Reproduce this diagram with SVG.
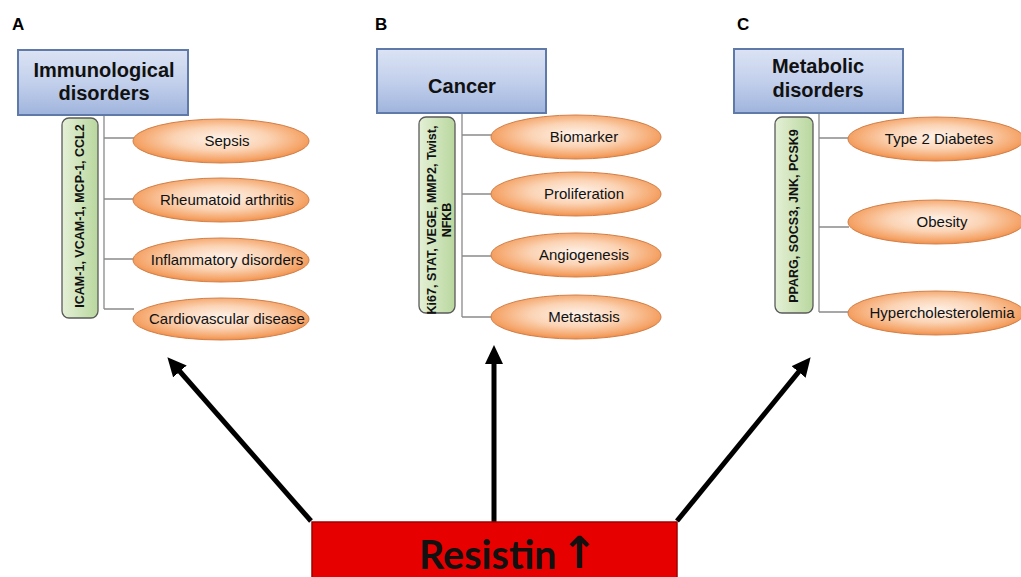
<svg xmlns="http://www.w3.org/2000/svg" width="1021" height="577" viewBox="0 0 1021 577">
<defs>
<linearGradient id="hdr" x1="0" y1="0" x2="0" y2="1">
<stop offset="0" stop-color="#dbe3f4"/>
<stop offset="0.5" stop-color="#c3d0ec"/>
<stop offset="1" stop-color="#9fb4dc"/>
</linearGradient>
<radialGradient id="ell" cx="0.5" cy="0.45" r="0.6">
<stop offset="0" stop-color="#fef3ea"/>
<stop offset="0.45" stop-color="#fbd3b4"/>
<stop offset="0.8" stop-color="#f5a468"/>
<stop offset="1" stop-color="#ee7d33"/>
</radialGradient>
<linearGradient id="grn" x1="0" y1="0" x2="1" y2="0">
<stop offset="0" stop-color="#e4f0d6"/>
<stop offset="1" stop-color="#b9d79e"/>
</linearGradient>
<marker id="ah" markerUnits="userSpaceOnUse" markerWidth="20" markerHeight="18" refX="2" refY="9" orient="auto">
<path d="M0,0 L19,9 L0,18 z" fill="#000"/>
</marker>
</defs>
<style>
.lbl{font-family:"Liberation Sans",Arial,sans-serif;font-weight:bold;font-size:17px;fill:#000}
.hb{fill:url(#hdr);stroke:#5f79a8;stroke-width:2}
.ht{font-family:"Liberation Sans",Arial,sans-serif;font-weight:bold;font-size:20px;fill:#111;text-anchor:middle}
.gb{fill:url(#grn);stroke:#5a5a5a;stroke-width:1.3}
.gt{font-family:"Liberation Sans",Arial,sans-serif;font-weight:bold;font-size:12.5px;fill:#111;text-anchor:middle}
.el{fill:url(#ell);stroke:#d0804a;stroke-width:1}
.et{font-family:"Liberation Sans",Arial,sans-serif;font-size:15px;fill:#111;text-anchor:middle}
.br{stroke:#8a8a8a;stroke-width:1.3;fill:none}
.ar{stroke:#000;stroke-width:5;fill:none;marker-end:url(#ah)}
</style>
<rect width="1021" height="577" fill="#fff"/>

<g id="connectors">
<path class="br" d="M104,115 V309 M104,138 H134 M104,199 H134 M104,259 H134 M104,309 H134"/>
<path class="br" d="M462,113 V317 M462,135 H492 M462,194 H492 M462,256 H492 M462,317 H492"/>
<path class="br" d="M819,113 V312 M819,138 H849 M819,227 H849 M819,312 H849"/>
<line class="ar" x1="311" y1="521" x2="178.6" y2="370"/>
<line class="ar" x1="494" y1="522" x2="494" y2="362"/>
<line class="ar" x1="677" y1="521" x2="799.9" y2="370.4"/>
</g>

<g id="panelA">
<text class="lbl" x="12" y="30">A</text>
<g id="nodeA-header"><rect class="hb" x="18" y="50" width="170" height="65"/>
<text class="ht" x="104" y="77">Immunological</text><text class="ht" x="104" y="100">disorders</text></g>
<g id="nodeA-markers"><rect class="gb" x="62" y="118" width="36" height="200" rx="7"/>
<text class="gt" transform="translate(84,216) rotate(-90)">ICAM-1, VCAM-1, MCP-1, CCL2</text></g>
<g id="nodeA-sepsis"><ellipse class="el" cx="221" cy="141" rx="88" ry="22"/><text class="et" x="227" y="146">Sepsis</text></g>
<g id="nodeA-ra"><ellipse class="el" cx="221" cy="200" rx="88" ry="22"/><text class="et" x="227" y="205">Rheumatoid arthritis</text></g>
<g id="nodeA-inf"><ellipse class="el" cx="221" cy="260" rx="88" ry="22"/><text class="et" x="227" y="265">Inflammatory disorders</text></g>
<g id="nodeA-cvd"><ellipse class="el" cx="221" cy="319" rx="88" ry="21"/><text class="et" x="227" y="324">Cardiovascular disease</text></g>
</g>

<g id="panelB">
<text class="lbl" x="375" y="30">B</text>
<g id="nodeB-header"><rect class="hb" x="377" y="49" width="169" height="64"/>
<text class="ht" x="462" y="93">Cancer</text></g>
<g id="nodeB-markers"><rect class="gb" x="419" y="117" width="36" height="196" rx="7"/>
<text class="gt" transform="translate(436,220) rotate(-90)">Ki67, STAT, VEGE, MMP2, Twist,</text>
<text class="gt" transform="translate(451,220) rotate(-90)">NFKB</text></g>
<g id="nodeB-bio"><ellipse class="el" cx="576" cy="137" rx="85" ry="22"/><text class="et" x="584" y="142">Biomarker</text></g>
<g id="nodeB-pro"><ellipse class="el" cx="576" cy="194" rx="85" ry="22"/><text class="et" x="584" y="199">Proliferation</text></g>
<g id="nodeB-ang"><ellipse class="el" cx="576" cy="255" rx="85" ry="22"/><text class="et" x="584" y="260">Angiogenesis</text></g>
<g id="nodeB-met"><ellipse class="el" cx="576" cy="317" rx="85" ry="22"/><text class="et" x="584" y="322">Metastasis</text></g>
</g>

<g id="panelC">
<text class="lbl" x="737" y="30">C</text>
<g id="nodeC-header"><rect class="hb" x="734" y="49" width="169" height="64"/>
<text class="ht" x="818" y="73">Metabolic</text><text class="ht" x="818" y="97">disorders</text></g>
<g id="nodeC-markers"><rect class="gb" x="775" y="117" width="38" height="196" rx="7"/>
<text class="gt" transform="translate(798,216) rotate(-90)">PPARG, SOCS3, JNK, PCSK9</text></g>
<g id="nodeC-t2d"><ellipse class="el" cx="936" cy="139" rx="88" ry="22"/><text class="et" x="939" y="144">Type 2 Diabetes</text></g>
<g id="nodeC-obe"><ellipse class="el" cx="936" cy="222" rx="88" ry="22"/><text class="et" x="942" y="227">Obesity</text></g>
<g id="nodeC-hyp"><ellipse class="el" cx="936" cy="313" rx="88" ry="22"/><text class="et" x="942" y="318">Hypercholesterolemia</text></g>
</g>

<g id="resistin">
<rect x="312" y="522" width="365" height="60" fill="#e60000" stroke="#a00000" stroke-width="1.5"/>
<text x="419" y="569" font-family="Lato, 'Liberation Sans', sans-serif" font-weight="bold" font-size="39.5" fill="#111">Resistin<tspan font-family="'DejaVu Sans', sans-serif" font-weight="bold" font-size="44" dx="4" dy="-1">↑</tspan></text>
</g>
</svg>
